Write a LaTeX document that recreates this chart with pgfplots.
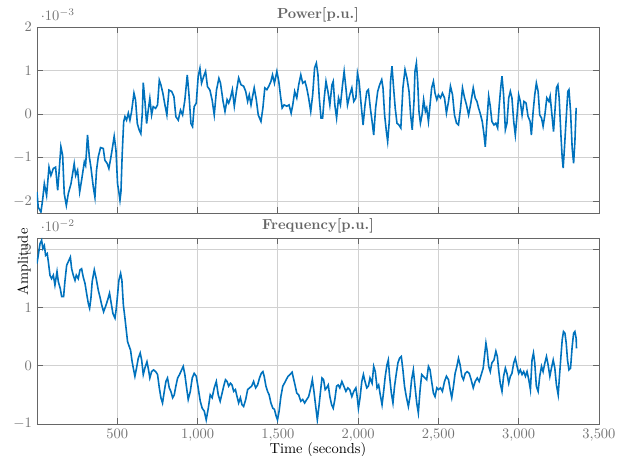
\documentclass[border=0pt]{standalone}
\usepackage{pgfplots}
\usepackage{pgfplotstable}
\pgfplotsset{compat=1.18}
\definecolor{mblue}{rgb}{0.0,0.447,0.741}

\pgfplotstableread{
x y
0 -1.79
8 -2.14
25 -2.25
35 -1.98
46 -1.6
60 -1.87
75 -1.22
87 -1.41
102 -1.25
116 -1.22
129 -1.75
137 -1.37
149 -0.75
160 -0.95
170 -1.83
183 -2.1
195 -1.83
212 -1.6
232 -1.14
241 -1.41
253 -1.29
266 -1.79
278 -1.52
295 -1.1
303 -1.18
315 -0.48
326 -0.98
336 -1.22
351 -1.68
361 -1.91
371 -1.29
382 -0.98
396 -0.77
413 -0.79
423 -1.06
438 -1.14
448 -1.25
461 -0.98
471 -0.75
481 -0.51
492 -0.83
502 -1.6
510 -1.79
517 -1.98
523 -1.79
531 -0.91
540 -0.18
548 -0.06
558 -0.14
569 0.02
579 -0.14
589 0.05
604 0.48
614 0.32
625 -0.22
637 -0.37
647 -0.45
656 0.02
662 0.72
672 0.32
683 -0.22
693 0.09
703 0.36
714 -0.02
724 0.17
739 0.13
751 0.21
762 0.78
772 0.67
784 0.48
797 0.21
809 -0.02
822 0.55
839 0.52
853 0.4
865 -0.06
880 -0.14
894 0.09
907 -0.02
921 0.32
936 0.9
946 0.48
959 -0.22
969 -0.29
979 0.17
992 0.25
1004 0.86
1015 1.05
1025 0.71
1038 0.86
1050 0.98
1062 0.63
1077 0.55
1091 0.32
1104 -0.02
1118 0.55
1133 0.82
1143 0.71
1159 0.29
1171 0.06
1184 0.33
1194 0.25
1205 0.37
1217 0.56
1229 0.18
1242 0.52
1256 0.83
1271 0.67
1287 0.64
1300 0.52
1312 0.29
1322 0.44
1333 0.21
1343 0.41
1353 0.6
1366 0.33
1378 -0.02
1395 -0.17
1407 0.14
1419 0.6
1432 0.56
1444 0.64
1457 0.75
1467 0.9
1479 0.71
1494 0.98
1506 0.75
1517 0.41
1527 0.14
1539 0.21
1556 0.18
1570 0.21
1583 0.02
1593 0.21
1605 0.52
1618 0.37
1630 0.67
1643 0.9
1655 0.71
1669 0.75
1680 0.6
1692 0.37
1705 0.06
1717 0.44
1729 1.06
1740 1.17
1750 0.9
1758 0.37
1769 -0.09
1779 -0.09
1789 0.37
1800 0.75
1812 0.52
1824 0.21
1837 0.67
1845 0.75
1855 0.21
1866 -0.09
1878 0.37
1890 0.21
1903 0.67
1913 0.98
1924 0.6
1934 0.21
1948 0.44
1961 0.6
1973 0.29
1986 0.37
1996 0.94
2006 0.75
2019 0.21
2031 -0.25
2043 0.21
2054 0.52
2064 0.56
2076 0.14
2087 -0.17
2097 -0.48
2109 0.14
2122 0.52
2134 0.67
2147 0.79
2155 0.6
2165 -0.02
2176 -0.4
2184 -0.63
2194 -0.17
2202 0.75
2211 1.1
2221 0.6
2231 0.14
2242 -0.21
2254 -0.25
2266 -0.32
2279 0.6
2292 1.02
2304 0.83
2317 0.52
2327 -0.02
2337 -0.36
2348 0.29
2354 0.98
2363 1.17
2371 0.75
2379 0.06
2388 -0.21
2398 -0.02
2408 0.33
2419 0.06
2427 0.14
2438 -0.17
2448 0.21
2458 0.6
2469 0.75
2479 0.48
2490 0.33
2500 0.44
2513 0.37
2525 0.48
2538 0.37
2550 0.02
2563 0.29
2575 0.64
2588 0.44
2600 -0.02
2613 -0.21
2625 -0.25
2638 0.14
2650 0.6
2663 0.37
2675 0.21
2688 -0.02
2700 0.21
2717 0.6
2729 0.37
2740 0.29
2750 0.14
2760 0.02
2773 -0.17
2783 -0.44
2792 -0.75
2802 -0.17
2813 0.41
2823 0.18
2833 -0.17
2846 -0.25
2858 -0.21
2869 -0.32
2879 0.21
2888 0.6
2896 0.87
2906 0.44
2917 -0.36
2927 -0.21
2938 0.37
2948 0.52
2958 0.37
2969 -0.17
2979 -0.48
2990 -0.02
3000 0.44
3010 0.29
3021 -0.02
3033 0.29
3046 0.25
3058 -0.05
3071 -0.17
3079 -0.48
3090 0.06
3100 0.44
3110 0.71
3121 0.52
3131 -0.02
3142 -0.09
3152 -0.28
3163 -0.02
3175 0.37
3188 0.29
3196 0.41
3206 0.02
3217 -0.4
3227 0.14
3235 0.6
3244 0.67
3252 0.37
3263 -0.48
3271 -1.01
3277 -1.24
3285 -0.78
3296 -0.09
3306 0.52
3313 0.56
3323 0.06
3333 -0.78
3342 -1.13
3350 -0.63
3358 0.14
}\powertable

\pgfplotstableread{
x y
0 1.76
8 1.9
19 2.1
29 2.16
37 2.02
46 2.07
54 1.9
64 1.93
71 1.79
81 1.56
91 1.5
102 1.56
112 1.39
125 1.62
133 1.45
145 1.33
154 1.19
166 1.19
174 1.45
185 1.73
195 1.79
208 1.87
216 1.67
226 1.56
237 1.47
245 1.56
257 1.5
268 1.65
278 1.67
288 1.53
299 1.42
309 1.25
320 1.07
328 0.99
336 1.16
344 1.45
357 1.65
369 1.5
382 1.3
392 1.19
403 1.05
415 0.93
427 1.02
440 1.13
452 1.25
461 1.1
473 0.9
486 0.82
494 0.99
502 1.22
510 1.47
521 1.59
529 1.47
538 1.05
548 0.82
556 0.62
564 0.42
575 0.33
583 0.27
591 0.1
600 -0.04
610 -0.18
620 -0.04
631 0.13
643 0.22
652 0.1
662 -0.15
672 -0.04
685 0.07
693 -0.04
703 -0.21
714 -0.1
726 -0.07
739 -0.1
751 -0.15
762 -0.38
772 -0.55
782 -0.64
793 -0.44
803 -0.27
813 -0.21
824 -0.38
834 -0.44
845 -0.55
855 -0.5
865 -0.35
876 -0.21
888 -0.15
901 -0.07
911 -0.01
921 -0.15
932 -0.38
942 -0.58
955 -0.44
967 -0.21
979 -0.13
992 -0.18
1004 -0.38
1017 -0.61
1029 -0.73
1042 -0.78
1054 -0.93
1067 -0.73
1079 -0.5
1091 -0.55
1104 -0.38
1117 -0.27
1129 -0.5
1141 -0.61
1153 -0.47
1163 -0.35
1174 -0.24
1184 -0.27
1194 -0.35
1205 -0.3
1215 -0.33
1225 -0.44
1236 -0.41
1246 -0.53
1256 -0.64
1267 -0.55
1277 -0.67
1287 -0.7
1300 -0.58
1312 -0.41
1324 -0.38
1337 -0.35
1349 -0.27
1362 -0.38
1374 -0.33
1386 -0.21
1397 -0.13
1407 -0.1
1415 -0.18
1426 -0.35
1436 -0.44
1446 -0.5
1457 -0.64
1469 -0.73
1479 -0.75
1490 -0.87
1498 -0.93
1508 -0.78
1519 -0.53
1531 -0.35
1541 -0.3
1552 -0.24
1564 -0.18
1576 -0.15
1589 -0.11
1597 -0.21
1607 -0.33
1618 -0.47
1630 -0.5
1643 -0.61
1655 -0.58
1667 -0.64
1680 -0.58
1692 -0.53
1705 -0.38
1715 -0.24
1725 -0.44
1736 -0.7
1746 -0.93
1756 -0.7
1767 -0.41
1775 -0.21
1785 -0.24
1795 -0.41
1804 -0.38
1814 -0.33
1824 -0.53
1835 -0.67
1845 -0.73
1855 -0.58
1866 -0.35
1876 -0.33
1886 -0.38
1899 -0.27
1911 -0.35
1924 -0.44
1936 -0.38
1948 -0.41
1961 -0.53
1973 -0.44
1986 -0.38
1994 -0.53
2002 -0.73
2012 -0.55
2023 -0.27
2033 -0.15
2043 -0.27
2054 -0.38
2064 -0.35
2074 -0.21
2087 -0.3
2097 -0.01
2107 -0.1
2118 -0.38
2128 -0.33
2138 -0.5
2149 -0.67
2159 -0.44
2169 -0.18
2180 0.02
2188 0.1
2196 -0.18
2207 -0.47
2217 -0.64
2227 -0.35
2238 -0.13
2248 0.05
2258 0.13
2269 0.16
2279 -0.07
2289 -0.35
2300 -0.53
2313 -0.7
2323 -0.53
2333 -0.24
2344 -0.07
2354 -0.35
2365 -0.64
2375 -0.81
2386 -0.41
2396 -0.15
2406 -0.18
2417 -0.21
2427 -0.24
2438 -0.01
2448 -0.07
2458 -0.27
2469 -0.47
2479 -0.53
2490 -0.38
2500 -0.41
2513 -0.38
2525 -0.44
2538 -0.27
2550 -0.18
2563 -0.24
2573 -0.41
2583 -0.55
2594 -0.35
2604 -0.13
2615 -0.01
2625 0.13
2635 0.02
2646 -0.18
2656 -0.24
2667 -0.13
2679 -0.1
2692 -0.13
2704 -0.24
2717 -0.38
2729 -0.27
2742 -0.21
2754 -0.27
2767 -0.15
2779 -0.04
2788 0.19
2796 0.39
2804 0.25
2813 -0.01
2823 -0.1
2833 0.05
2846 0.1
2858 0.25
2867 0.16
2875 -0.07
2885 -0.3
2896 -0.44
2906 -0.18
2917 -0.04
2927 -0.13
2938 -0.3
2948 -0.18
2958 -0.13
2969 0.05
2979 0.13
2990 -0.01
3000 -0.13
3010 -0.07
3021 -0.15
3031 -0.1
3042 -0.18
3052 -0.1
3063 -0.24
3073 -0.41
3083 0.1
3092 0.22
3100 0.05
3110 -0.35
3121 -0.44
3131 -0.18
3142 -0.01
3152 -0.1
3163 0.05
3173 0.16
3183 0.02
3194 -0.18
3204 -0.04
3215 0.1
3225 -0.04
3235 -0.33
3246 -0.5
3254 -0.18
3263 0.16
3271 0.45
3279 0.59
3288 0.56
3296 0.39
3304 0.1
3313 -0.07
3323 -0.04
3333 0.33
3342 0.56
3350 0.59
3358 0.47
3360 0.3
}\freqtable

\pgfplotsset{
  mystyle/.style={
    scale only axis, width=387.8pt, height=128.3pt,
    xmin=0, xmax=3500, xtick={500,1000,...,3500},
    scaled x ticks=false, scaled y ticks=false,
    grid=major, major grid style={black!18, line width=0.5pt},
    axis line style={black!60}, tick style={black!60, line width=0.5pt},
    major tick length=4pt,
    tick align=inside,
    ticklabel style={text=black!55},
    title style={font=\bfseries, text=black!60, yshift=-6.5pt},
    clip=true,
  }
}

\begin{document}
\begin{tikzpicture}
\begin{axis}[mystyle, name=top, at={(0,0)}, anchor=north west,
  ymin=-2.27, ymax=2, ytick={-2,-1,0,1,2},
  xticklabels=\empty,
  title={Power[p.u.]}]
\addplot[mblue, line width=1.1pt] table[x=x,y=y] {\powertable};
\end{axis}
\node[anchor=south west, text=black!55, inner sep=0pt] at ([xshift=2.5pt,yshift=4pt]top.north west) {$\cdot 10^{-3}$};
\begin{axis}[mystyle, name=bot, at={(0,-145.6pt)}, anchor=north west,
  ymin=-1, ymax=2.2, ytick={-1,0,1,2},
  title={Frequency[p.u.]},
  xlabel={Time (seconds)},
  xlabel style={yshift=6pt},
  ylabel={Amplitude},
  ylabel style={at={(axis description cs:-0.023,0.87)}, anchor=center}]
\addplot[mblue, line width=1.1pt] table[x=x,y=y] {\freqtable};
\end{axis}
\node[anchor=south west, text=black!55, inner sep=0pt] at ([xshift=2.5pt,yshift=4pt]bot.north west) {$\cdot 10^{-2}$};
\pgfresetboundingbox
\path (-25.5pt,18.6pt) rectangle (405.75pt,-296pt);
\end{tikzpicture}
\end{document}
